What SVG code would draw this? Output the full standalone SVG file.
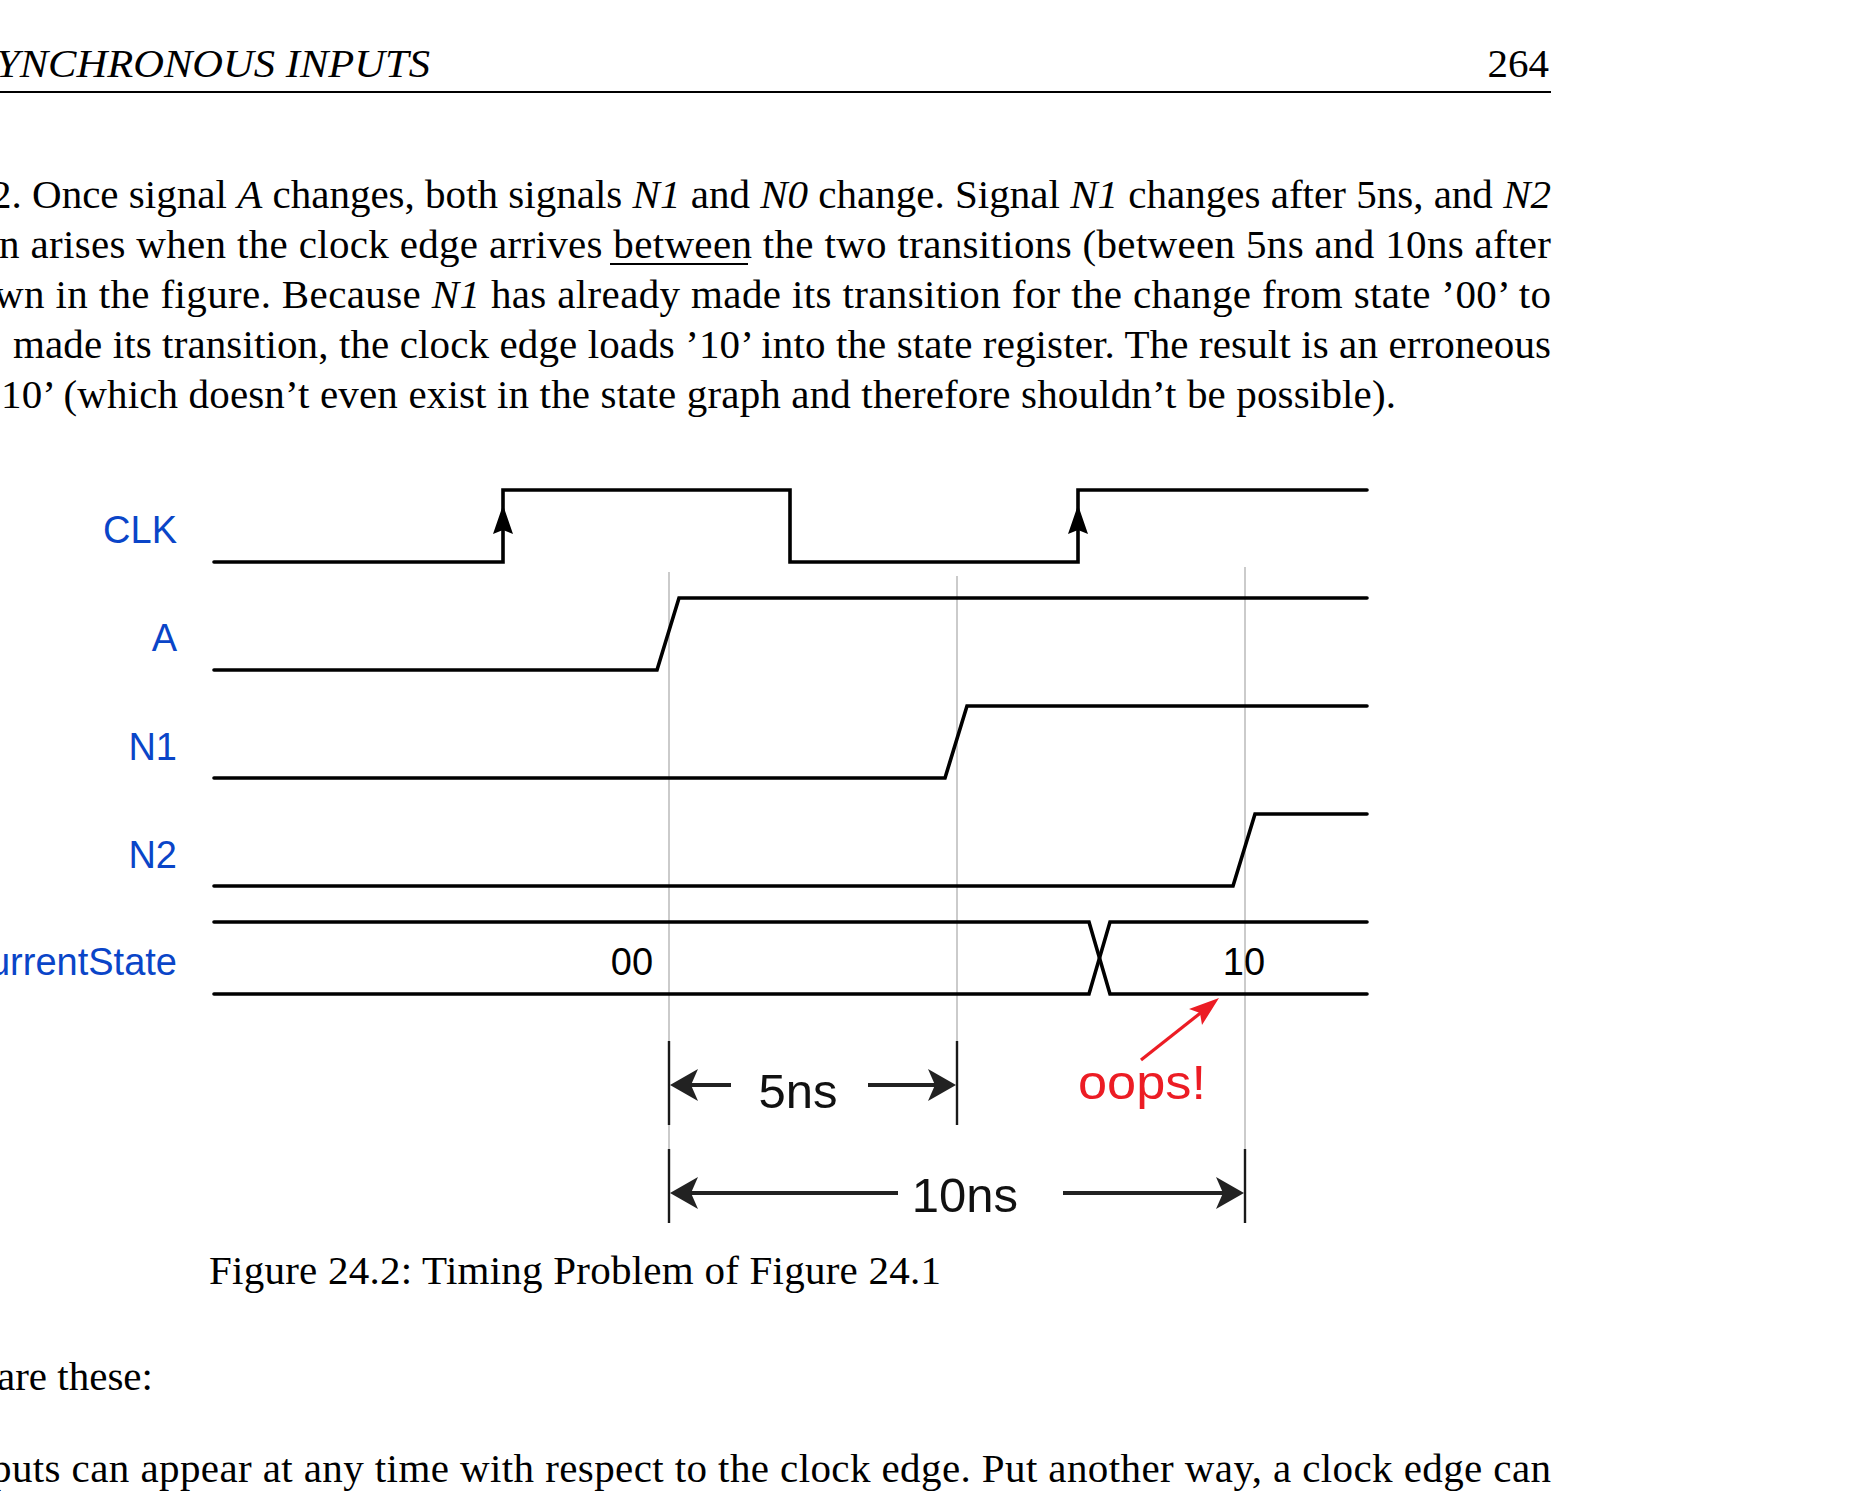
<svg xmlns="http://www.w3.org/2000/svg" width="1851" height="1501" viewBox="0 0 1851 1501">
<style>
.body{font-family:"Liberation Serif","Times New Roman",serif;font-size:41px;fill:#000}
.it{font-style:italic}
.lbl{font-family:"Liberation Sans",Arial,sans-serif;font-size:38px;fill:#0a45c8;text-anchor:end}
.val{font-family:"Liberation Sans",Arial,sans-serif;font-size:38px;fill:#000;text-anchor:middle}
.dim{font-family:"Liberation Sans",Arial,sans-serif;font-size:49px;fill:#111;text-anchor:middle}
.wave{fill:none;stroke:#000;stroke-width:3.6;stroke-linejoin:miter;stroke-linecap:round}
.guide{stroke:#a8a8a8;stroke-width:1.2}
.tick{stroke:#1a1a1a;stroke-width:2.4}
.shaft{stroke:#222;stroke-width:4}
.head{fill:#222}
</style>
<rect width="1851" height="1501" fill="#fff"/>
<g id="page-header">
<text class="body it" x="-4" y="77" font-size="42" textLength="434" lengthAdjust="spacingAndGlyphs">YNCHRONOUS INPUTS</text>
<text class="body" x="1549" y="77" font-size="42" text-anchor="end">264</text>
<line x1="0" y1="92" x2="1551" y2="92" stroke="#000" stroke-width="2"/>
</g>
<g id="paragraph">
<text class="body" x="-9" y="208" textLength="1560" lengthAdjust="spacing">2. Once signal <tspan class="it">A</tspan> changes, both signals <tspan class="it">N1</tspan> and <tspan class="it">N0</tspan> change. Signal <tspan class="it">N1</tspan> changes after 5ns, and <tspan class="it">N2</tspan></text>
<text class="body" x="-1" y="258" textLength="1552" lengthAdjust="spacing">n arises when the clock edge arrives between the two transitions (between 5ns and 10ns after</text>
<line x1="610" y1="264" x2="748" y2="264" stroke="#000" stroke-width="2"/>
<text class="body" x="-6" y="308" textLength="1557" lengthAdjust="spacing">wn in the figure. Because <tspan class="it">N1</tspan> has already made its transition for the change from state ’00’ to</text>
<text class="body" x="13" y="358" textLength="1538" lengthAdjust="spacing">made its transition, the clock edge loads ’10’ into the state register. The result is an erroneous</text>
<text class="body" x="1" y="408" textLength="1395" lengthAdjust="spacing">10’ (which doesn’t even exist in the state graph and therefore shouldn’t be possible).</text>
</g>
<g id="guides">
<line class="guide" x1="669" y1="572" x2="669" y2="1223"/>
<line class="guide" x1="957" y1="576" x2="957" y2="1125"/>
<line class="guide" x1="1245" y1="567" x2="1245" y2="1223"/>
</g>
<g id="sig-clk">
<text class="lbl" x="177" y="543">CLK</text>
<path class="wave" d="M214 562 H503 V490 H790 V562 H1078 V490 H1367"/>
<path d="M503 505 L513 534 L503 530 L493 534 Z" fill="#000"/>
<path d="M1078 505 L1088 534 L1078 530 L1068 534 Z" fill="#000"/>
</g>
<g id="sig-a">
<text class="lbl" x="177" y="651">A</text>
<path class="wave" d="M214 670 H657 L679 598 H1367"/>
</g>
<g id="sig-n1">
<text class="lbl" x="177" y="760">N1</text>
<path class="wave" d="M214 778 H945 L967 706 H1367"/>
</g>
<g id="sig-n2">
<text class="lbl" x="177" y="868">N2</text>
<path class="wave" d="M214 886 H1233 L1255 814 H1367"/>
</g>
<g id="sig-state">
<text class="lbl" x="177" y="975">CurrentState</text>
<path class="wave" d="M214 922 H1089 L1110 994 H1367"/>
<path class="wave" d="M214 994 H1089 L1110 922 H1367"/>
<text class="val" x="632" y="975">00</text>
<text class="val" x="1244" y="975">10</text>
</g>
<g id="connectors">
<g id="dim-5ns">
<line class="tick" x1="669" y1="1041" x2="669" y2="1125"/>
<line class="tick" x1="957" y1="1041" x2="957" y2="1125"/>
<line class="shaft" x1="690" y1="1085" x2="731" y2="1085"/>
<path class="head" d="M670 1085 L698 1069 L691 1085 L698 1101 Z"/>
<line class="shaft" x1="868" y1="1085" x2="935" y2="1085"/>
<path class="head" d="M956 1085 L928 1069 L935 1085 L928 1101 Z"/>
<text class="dim" x="798" y="1108">5ns</text>
</g>
<g id="dim-10ns">
<line class="tick" x1="669" y1="1149" x2="669" y2="1223"/>
<line class="tick" x1="1245" y1="1149" x2="1245" y2="1223"/>
<line class="shaft" x1="690" y1="1193" x2="898" y2="1193"/>
<path class="head" d="M670 1193 L698 1177 L691 1193 L698 1209 Z"/>
<line class="shaft" x1="1063" y1="1193" x2="1223" y2="1193"/>
<path class="head" d="M1244 1193 L1216 1177 L1223 1193 L1216 1209 Z"/>
<text class="dim" x="965" y="1212">10ns</text>
</g>
<g id="oops">
<line x1="1141" y1="1060" x2="1203" y2="1011" stroke="#ec1c24" stroke-width="3.2"/>
<path d="M1219 998 L1202 1025 L1200 1013 L1189 1009 Z" fill="#ec1c24"/>
<text x="1142" y="1099" font-family="Liberation Sans,Arial,sans-serif" font-size="49" fill="#ec1c24" text-anchor="middle" textLength="128" lengthAdjust="spacingAndGlyphs">oops!</text>
</g>
</g>
<g id="caption">
<text class="body" x="209" y="1284" textLength="732" lengthAdjust="spacing">Figure 24.2: Timing Problem of Figure 24.1</text>
</g>
<g id="following-text">
<text class="body" x="-3" y="1390">are these:</text>
<text class="body" x="-9" y="1482" textLength="1560" lengthAdjust="spacing">puts can appear at any time with respect to the clock edge. Put another way, a clock edge can</text>
</g>
</svg>
